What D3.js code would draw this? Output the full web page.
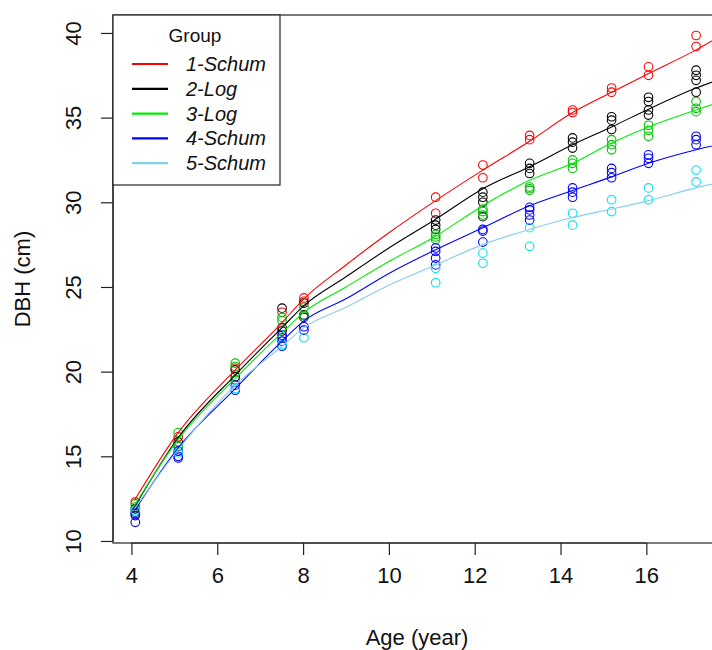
<!DOCTYPE html>
<html>
<head>
<meta charset="utf-8">
<script src="https://cdn.jsdelivr.net/npm/d3@7"></script>
<style>
  html, body { margin: 0; padding: 0; background: #fff; }
  svg { display: block; font-family: 'Liberation Sans', Arial, sans-serif; }
</style>
</head>
<body>
<script>
// Groups and their colours (line colour / point colour)
const groups = ['1-Schum', '2-Log', '3-Log', '4-Schum', '5-Schum']
const lineColors = ['#ff0000', '#000000', '#00ee00', '#0000ff', '#87ceeb']
const pointColors = ['#ff0000', '#000000', '#00c000', '#0000ff', '#00e5ee']

// Fitted curves at these ages
const curveAges = [4.07, 5.09, 6.42, 7.51, 8.02, 9, 10, 11.09, 12.19, 13.28, 14.28, 15.19, 16.05, 17.16, 17.75]
const curve1 = [12.4, 16.4, 20.1, 22.9, 24.3, 26.3, 28.2, 30.1, 31.9, 33.6, 35.3, 36.5, 37.6, 39.0, 39.85]
const curve2 = [12.0, 16.1, 19.8, 22.6, 23.9, 25.6, 27.3, 29.0, 30.8, 32.1, 33.4, 34.45, 35.5, 36.75, 37.3]
const curve3 = [12.1, 16.0, 19.6, 22.3, 23.5, 25.0, 26.5, 28.0, 29.8, 31.3, 32.3, 33.5, 34.45, 35.45, 35.95]
const curve4 = [11.8, 15.5, 19.0, 21.8, 23.0, 24.3, 25.8, 27.2, 28.5, 29.8, 30.7, 31.5, 32.3, 33.1, 33.45]
const curve5 = [11.9, 15.4, 19.2, 21.5, 22.6, 23.8, 25.1, 26.3, 27.5, 28.4, 29.1, 29.6, 30.1, 30.85, 31.2]

// Observed DBH per group: [age, dbh]
const obs1 = [
  [4.09, 12.3], [5.09, 16.15], [6.42, 20.2], [7.51, 23.5], [8.02, 24.35], [8.02, 24.15],
  [11.09, 30.3], [11.09, 29.35], [12.19, 32.2], [12.19, 31.45], [13.28, 33.95], [13.28, 33.7],
  [14.28, 35.45], [14.28, 35.3], [15.19, 36.75], [15.19, 36.5], [16.05, 38.0], [16.05, 37.5],
  [17.16, 39.85], [17.16, 39.2]
]
const obs2 = [
  [4.09, 11.9], [4.09, 11.6], [5.09, 15.85], [5.09, 15.6], [6.42, 20.1], [6.42, 19.7], [6.42, 19.5],
  [7.51, 23.75], [7.51, 22.6], [7.51, 22.4], [8.02, 24.05], [8.02, 23.35], [8.02, 23.2],
  [11.09, 28.95], [11.09, 28.65], [11.09, 28.4], [12.19, 30.6], [12.19, 30.3], [12.19, 30.0], [12.19, 29.15],
  [13.28, 32.3], [13.28, 32.0], [13.28, 31.7], [14.28, 33.8], [14.28, 33.55], [14.28, 33.2],
  [15.19, 35.05], [15.19, 34.85], [15.19, 34.3], [16.05, 36.2], [16.05, 35.95], [16.05, 35.45], [16.05, 35.15],
  [17.16, 37.8], [17.16, 37.5], [17.16, 37.2], [17.16, 36.5]
]
const obs3 = [
  [4.09, 12.2], [4.09, 12.0], [5.09, 16.4], [5.09, 15.6], [6.42, 20.5], [6.42, 20.3], [6.42, 19.5],
  [7.51, 23.2], [7.51, 23.0], [8.02, 23.8], [8.02, 23.3],
  [11.09, 28.1], [11.09, 27.95], [11.09, 27.8], [12.19, 29.6], [12.19, 29.45], [12.19, 29.25],
  [13.28, 30.9], [13.28, 30.8], [13.28, 30.7], [14.28, 32.5], [14.28, 32.3], [14.28, 32.0],
  [15.19, 33.7], [15.19, 33.4], [15.19, 33.1], [16.05, 34.55], [16.05, 34.25], [16.05, 33.9],
  [17.16, 35.95], [17.16, 35.55], [17.16, 35.35]
]
const obs4 = [
  [4.09, 11.7], [4.09, 11.5], [4.09, 11.1], [5.09, 15.3], [5.09, 15.0], [5.09, 14.9], [6.42, 19.2], [6.42, 18.9],
  [7.51, 22.15], [7.51, 22.0], [7.51, 21.8], [7.51, 21.5], [8.02, 22.65], [8.02, 22.45],
  [11.09, 27.3], [11.09, 27.1], [11.09, 26.7], [11.09, 26.3], [12.19, 28.4], [12.19, 28.3], [12.19, 27.65],
  [13.28, 29.7], [13.28, 29.55], [13.28, 29.25], [13.28, 28.95], [14.28, 30.85], [14.28, 30.6], [14.28, 30.3],
  [15.19, 32.0], [15.19, 31.75], [15.19, 31.45], [16.05, 32.8], [16.05, 32.6], [16.05, 32.3],
  [17.16, 33.9], [17.16, 33.7], [17.16, 33.4]
]
const obs5 = [
  [4.09, 11.8], [5.09, 15.2], [6.42, 19.0], [7.51, 21.6], [8.02, 22.0],
  [11.09, 26.1], [11.09, 25.25], [12.19, 27.0], [12.19, 26.4], [13.28, 28.5], [13.28, 27.4],
  [14.28, 29.35], [14.28, 28.65], [15.19, 30.15], [15.19, 29.45], [16.05, 30.85], [16.05, 30.15],
  [17.16, 31.9], [17.16, 31.2]
]

const xTicks = [4, 6, 8, 10, 12, 14, 16]
const yTicks = [10, 15, 20, 25, 30, 35, 40]

const curves = [curve1, curve2, curve3, curve4, curve5]
const observed = [obs1, obs2, obs3, obs4, obs5]

const width = 712
const height = 650
// plot region (right edge runs past the window, as in the reference)
const plot = { left: 113, top: 15, right: 721, bottom: 543 }

const x = d3.scaleLinear().domain([3.57, 17.74]).range([plot.left, plot.right])
const y = d3.scaleLinear().domain([9.88, 41.06]).range([plot.bottom, plot.top])

const svg = d3.select(document.body).append('svg')
  .attr('width', width)
  .attr('height', height)

svg.append('defs').append('clipPath').attr('id', 'plot-clip')
  .append('rect')
  .attr('x', plot.left).attr('y', plot.top)
  .attr('width', plot.right - plot.left).attr('height', plot.bottom - plot.top)

const body = svg.append('g').attr('clip-path', 'url(#plot-clip)')

// Observed points as open circles
observed.forEach((pts, gi) => {
  body.append('g')
    .selectAll('circle')
    .data(pts)
    .enter()
    .append('circle')
    .attr('cx', (d) => x(d[0]))
    .attr('cy', (d) => y(d[1]))
    .attr('r', 4.3)
    .attr('fill', 'none')
    .attr('stroke', pointColors[gi])
    .attr('stroke-width', 1.1)
})

// Fitted curves
const line = d3.line()
  .curve(d3.curveMonotoneX)
  .x((d) => x(d[0]))
  .y((d) => y(d[1]))

curves.forEach((vals, gi) => {
  body.append('path')
    .datum(curveAges.map((a, i) => [a, vals[i]]))
    .attr('d', line)
    .attr('fill', 'none')
    .attr('stroke', lineColors[gi])
    .attr('stroke-width', 1.1)
})

// Plot box
svg.append('rect')
  .attr('x', plot.left).attr('y', plot.top)
  .attr('width', plot.right - plot.left).attr('height', plot.bottom - plot.top)
  .attr('fill', 'none')
  .attr('stroke', '#222')
  .attr('stroke-width', 1.2)

// X axis (R style: ticks outward, labels below)
const xAxis = svg.append('g').attr('transform', `translate(0,${plot.bottom})`)
  .call(d3.axisBottom(x).tickValues(xTicks).tickSize(12).tickPadding(12).tickFormat(d3.format('d')))
xAxis.select('.domain')
  .attr('d', `M${x(xTicks[0])},0H${x(xTicks[xTicks.length - 1])}`)
  .attr('stroke', '#222').attr('stroke-width', 1.2)
xAxis.selectAll('.tick line').attr('stroke', '#222').attr('stroke-width', 1.2)
xAxis.selectAll('.tick text')
  .attr('font-size', 22)
  .attr('font-family', "'Liberation Sans', Arial, sans-serif")
  .attr('fill', '#111')

// Y axis with rotated labels
const yAxis = svg.append('g').attr('transform', `translate(${plot.left},0)`)
  .call(d3.axisLeft(y).tickValues(yTicks).tickSize(12).tickFormat(d3.format('d')))
yAxis.select('.domain')
  .attr('d', `M0,${y(yTicks[0])}V${y(yTicks[yTicks.length - 1])}`)
  .attr('stroke', '#222').attr('stroke-width', 1.2)
yAxis.selectAll('.tick line').attr('stroke', '#222').attr('stroke-width', 1.2)
yAxis.selectAll('.tick text')
  .attr('x', null).attr('dy', null)
  .attr('text-anchor', 'middle')
  .attr('dominant-baseline', 'central')
  .attr('transform', 'translate(-40,0) rotate(-90)')
  .attr('font-size', 22)
  .attr('font-family', "'Liberation Sans', Arial, sans-serif")
  .attr('fill', '#111')

// Axis titles
svg.append('text')
  .attr('x', (plot.left + plot.right) / 2)
  .attr('y', 637)
  .attr('text-anchor', 'middle')
  .attr('dominant-baseline', 'central')
  .attr('font-size', 22)
  .attr('fill', '#111')
  .text('Age (year)')

svg.append('text')
  .attr('transform', `translate(22,${(plot.top + plot.bottom) / 2}) rotate(-90)`)
  .attr('text-anchor', 'middle')
  .attr('dominant-baseline', 'central')
  .attr('font-size', 22)
  .attr('fill', '#111')
  .text('DBH (cm)')

// Legend
const legend = svg.append('g')
legend.append('rect')
  .attr('x', plot.left).attr('y', plot.top)
  .attr('width', 167).attr('height', 170)
  .attr('fill', '#fff')
  .attr('stroke', '#222')
  .attr('stroke-width', 1.2)

legend.append('text')
  .attr('x', 195).attr('y', 35)
  .attr('text-anchor', 'middle')
  .attr('dominant-baseline', 'central')
  .attr('font-size', 19)
  .attr('fill', '#111')
  .text('Group')

const entries = legend.selectAll('.entry')
  .data(groups)
  .enter()
  .append('g')
  .attr('class', 'entry')
  .attr('transform', (d, i) => `translate(0,${64 + i * 24.8})`)

entries.append('line')
  .attr('x1', 132).attr('x2', 168)
  .attr('stroke', (d, i) => lineColors[i])
  .attr('stroke-width', 2.2)

entries.append('text')
  .attr('x', 186)
  .attr('dominant-baseline', 'central')
  .attr('font-size', 20)
  .attr('font-style', 'italic')
  .attr('fill', '#111')
  .text((d) => d)
</script>
</body>
</html>
